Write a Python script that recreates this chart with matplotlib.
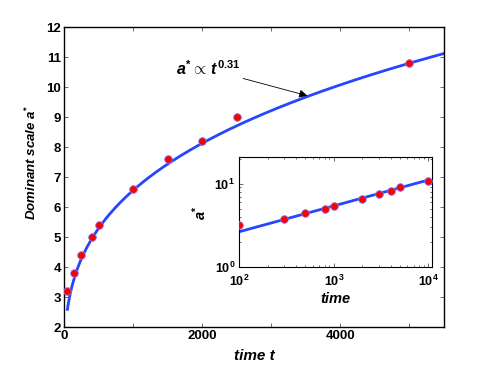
import numpy as np
import matplotlib
matplotlib.use('Agg')
from matplotlib import pyplot as plt
from matplotlib.ticker import FixedLocator, NullFormatter, LogLocator

# data
t_main = [50, 150, 250, 400, 500, 1000, 1500, 2000, 2500, 5000]
t_inset = [100, 300, 500, 800, 1000, 2000, 3000, 4000, 5000, 10000]
a_star = [3.2, 3.8, 4.4, 5.0, 5.4, 6.6, 7.6, 8.2, 9.0, 10.8]

fit_exp = 0.31
fit_coef_main = 0.77
fit_coef_inset = 0.636

main_xticks = [0, 1000, 2000, 3000, 4000, 5000]
main_xlabels = ['0', '', '2000', '', '4000', '']
main_yticks = [2, 3, 4, 5, 6, 7, 8, 9, 10, 11, 12]

plt.rcParams['font.family'] = 'Liberation Sans'
plt.rcParams['font.weight'] = 'bold'
plt.rcParams['axes.labelweight'] = 'bold'
plt.rcParams['mathtext.fontset'] = 'custom'
plt.rcParams['mathtext.it'] = 'Liberation Sans:italic:bold'
plt.rcParams['mathtext.rm'] = 'Liberation Sans:bold'
plt.rcParams['mathtext.bf'] = 'Liberation Sans:bold'

line_col = '#2546ff'
dot_kw = dict(ls='none', marker='o', ms=5.5, mfc='red', mec='#7a7aff', mew=0.6, zorder=3)

fig = plt.figure(figsize=(4.91, 3.69), dpi=100)
ax = fig.add_axes([0.1303, 0.1138, 0.774, 0.813])

tt = np.linspace(50, 5500, 300)
ax.plot(tt, fit_coef_main * tt ** fit_exp, color=line_col, lw=2.0)
ax.plot(t_main, a_star, **dot_kw)
ax.set_xlim(0, 5500)
ax.set_ylim(2, 12)
ax.xaxis.set_major_locator(FixedLocator(main_xticks))
ax.set_xticklabels(main_xlabels)
ax.set_yticks(main_yticks)
ax.tick_params(direction='in', top=True, right=True, length=3, width=0.6,
               labelsize=9.5, pad=2, color='#555555')
for s in ax.spines.values():
    s.set_linewidth(1.0)
ax.set_xlabel('time t', style='italic', fontweight='bold', fontsize=11, labelpad=5)
ax.set_ylabel(r'Dominant scale $\mathit{a}^{*}$', style='italic', fontweight='bold',
              fontsize=9.5)
ax.yaxis.set_label_coords(-0.065, 0.55)

ax.annotate(r'$\mathit{a}^{*}\propto\, \mathit{t}^{\mathit{0.31}}$', xy=(3522, 9.71),
            xytext=(2551, 10.6), fontsize=11.5, ha='right', va='center',
            arrowprops=dict(arrowstyle='-|>', color='black', lw=0.6,
                            mutation_scale=12, shrinkA=0, shrinkB=0))

# inset, log-log
ins = fig.add_axes([0.4874, 0.2764, 0.3918, 0.2973])
ti = np.logspace(2, 4, 50)
ins.plot(ti, fit_coef_inset * ti ** fit_exp, color=line_col, lw=2.0)
ins.plot(t_inset, a_star, **dot_kw)
ins.set_xscale('log')
ins.set_yscale('log')
ins.set_xlim(100, 10870)
ins.set_ylim(1, 20.7)
ins.xaxis.set_major_locator(LogLocator(base=10, numticks=5))
ins.yaxis.set_major_locator(LogLocator(base=10, numticks=5))
ins.tick_params(which='both', direction='in', top=True, right=True, width=0.6,
                labelsize=9, color='#555555')
ins.tick_params(axis='x', pad=5)
ins.tick_params(axis='y', pad=3)
ins.tick_params(which='major', length=3)
ins.tick_params(which='minor', length=1.5)
ins.yaxis.set_minor_formatter(NullFormatter())
ins.set_xlabel('time', style='italic', fontweight='bold', fontsize=10.5, labelpad=2)
ins.set_ylabel(r'$\mathit{a}^{*}$', fontsize=10.5, labelpad=4)

fig.savefig('out.png', dpi=100, facecolor='white')
